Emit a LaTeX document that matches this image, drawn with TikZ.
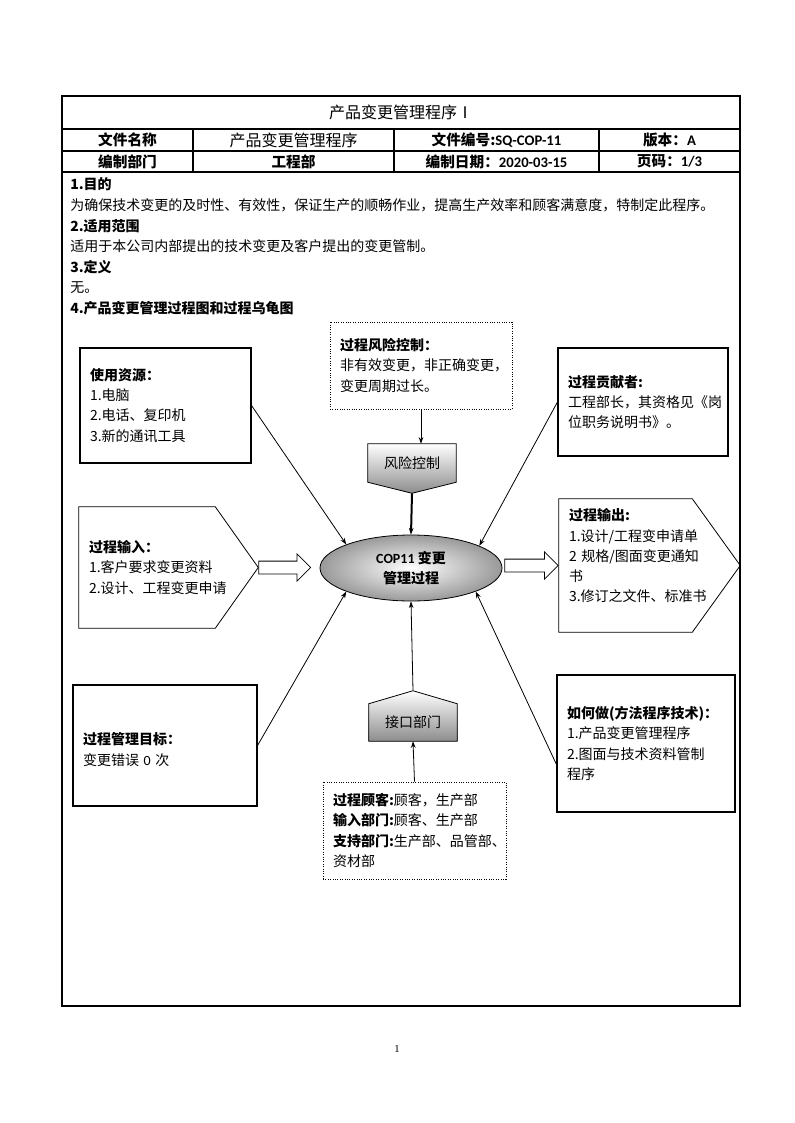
\documentclass[tikz,border=0pt]{standalone}
\usepackage{fontspec}
\setmainfont{Noto Sans CJK SC}
\newfontfamily\lat{Carlito}
\newfontfamily\pgnum{Liberation Serif}
\usetikzlibrary{arrows.meta,positioning,calc,shapes.arrows,shapes.geometric,backgrounds}

\begin{document}
\begin{tikzpicture}[x=0.75pt, y=-0.75pt,
    txt/.style={font=\fontsize{10.5}{15.2}\selectfont, inner sep=0pt},
    head/.style={txt, anchor=west, font=\fontsize{10.5}{15.2}\selectfont\bfseries},
    para/.style={txt, anchor=west},
    cell/.style={font=\fontsize{11}{13}\selectfont\bfseries, inner sep=0pt},
    box/.style={draw, line width=0.8pt, align=left, inner xsep=7.5pt, inner ysep=0pt,
                font=\fontsize{10.5}{15.2}\selectfont},
    dbox/.style={box, densely dotted, line width=0.7pt},
    plate/.style={align=left, inner xsep=7.5pt, inner ysep=0pt,
                  font=\fontsize{10.5}{15.2}\selectfont},
    tag/.style={draw, line width=0.6pt, top color=white, bottom color=black!45},
    blockarr/.style={draw, single arrow, single arrow head extend=5.5pt, inner sep=4.5pt,
                     minimum height=39pt, line width=0.6pt, fill=white},
    arr/.style={-{Stealth[length=5pt,width=3.5pt]}, line width=0.6pt}
]
\useasboundingbox (0,0) rectangle (794,1123);

% frame and header table
\draw[line width=0.8pt] (62,96) rectangle (740,1006);
\draw[line width=0.8pt] (62,129) -- (740,129);
\draw[line width=0.8pt] (62,151) -- (740,151);
\draw[line width=0.8pt] (62,172) -- (740,172);
\foreach \cx in {193,394,599}
    \draw[line width=0.8pt] (\cx,129) -- (\cx,172);

\node[font=\fontsize{12}{14}\selectfont, inner sep=0pt] (title) at (401,112) {产品变更管理程序Ⅰ};

\node[cell] (fname)   at (127.5,140) {文件名称};
\node[font=\fontsize{12}{14}\selectfont, inner sep=0pt] (fnameval) at (293.5,140) {产品变更管理程序};
\node[cell] (fno)     at (496.5,140) {文件编号:{\lat SQ-COP-11}};
\node[cell] (ver)     at (669.5,140) {版本：{\lat A}};
\node[cell] (dept)    at (127.5,161.5) {编制部门};
\node[cell] (deptval) at (293.5,161.5) {工程部};
\node[cell] (date)    at (496.5,161.5) {编制日期：{\lat 2020-03-15}};
\node[cell] (pg)      at (669.5,161.5) {页码：{\lat 1/3}};

% sections
\node[head] (s1)  at (70,184) {1.目的};
\node[para] (p1)  at (70,205) {为确保技术变更的及时性、有效性，保证生产的顺畅作业，提高生产效率和顾客满意度，特制定此程序。};
\node[head] (s2)  at (70,226) {2.适用范围};
\node[para] (p2)  at (70,246) {适用于本公司内部提出的技术变更及客户提出的变更管制。};
\node[head] (s3)  at (70,267) {3.定义};
\node[para] (p3)  at (70,288) {无。};
\node[head] (s4)  at (70,308) {4.产品变更管理过程图和过程乌龟图};

% turtle diagram
\node[box, text width=113.25pt, minimum height=86.25pt] (res) at (165.5,405.5)
    {\textbf{使用资源：}\\1.电脑\\2.电话、复印机\\3.新的通讯工具};
\node[dbox, text width=121.5pt, minimum height=65.25pt] (risk) at (421,365.5)
    {\textbf{过程风险控制：}\\非有效变更，非正确变更，\\变更周期过长。};
\node[box, text width=112.5pt, minimum height=81pt] (contrib) at (643,402)
    {\textbf{过程贡献者:}\\工程部长，其资格见《岗\\位职务说明书》。};

\node[plate, inner xsep=0pt, minimum width=66pt, minimum height=28.5pt, align=center] (riskctl) at (412,463) {风险控制};
\coordinate (riskctltip) at ($(riskctl.south)+(0,11)$);

\node[plate, text width=87pt, minimum height=90.75pt] (input) at (147,567.5)
    {\textbf{过程输入：}\\1.客户要求变更资料\\2.设计、工程变更申请};
\coordinate (inputtip) at ($(input.east)+(43,0)$);

\node[ellipse, draw, line width=0.6pt, minimum width=136.5pt, minimum height=49.5pt, inner sep=0pt,
      inner color=white, outer color=black!40, align=center,
      font=\fontsize{10.5}{15}\selectfont\bfseries] (core) at (411,568) {{\lat COP11} 变更\\管理过程};

\node[plate, text width=84.75pt, minimum height=99.75pt] (output) at (625.5,565.5)
    {\textbf{过程输出:}\\1.设计/工程变申请单\\2~规格/图面变更通知\\书\\3.修订之文件、标准书\\\mbox{}};
\coordinate (outputtip) at ($(output.east)+(48,0)$);

\node[blockarr, anchor=tail] (inarr) at (inputtip) {};
\node[blockarr, anchor=tip, minimum height=40pt] (outarr) at (output.west) {};

\node[plate, inner xsep=0pt, minimum width=66pt, minimum height=27.75pt, align=center] (iface) at (413,722.5) {接口部门};
\coordinate (ifacetip) at ($(iface.north)+(0,-13)$);

\node[box, text width=123pt, minimum height=90.75pt] (goal) at (165,745.5)
    {\mbox{}\\\textbf{过程管理目标：}\\变更错误 {\lat 0} 次};
\node[box, text width=118.5pt, minimum height=102.75pt] (how) at (646,743.5)
    {\textbf{如何做(方法程序技术)：}\\1.产品变更管理程序\\2.图面与技术资料管制\\程序};
\node[dbox, text width=122.25pt, minimum height=72.75pt] (cust) at (414.5,830.5)
    {\textbf{过程顾客:}顾客，生产部\\\textbf{输入部门:}顾客、生产部\\\textbf{支持部门:}生产部、品管部、\\资材部};

\begin{scope}[on background layer]
\shade[tag] (riskctl.north west) -- (riskctl.north east) -- (riskctl.south east)
    -- (riskctltip) -- (riskctl.south west) -- cycle;
\shade[tag] (iface.south west) -- (iface.north west) -- (ifacetip)
    -- (iface.north east) -- (iface.south east) -- cycle;
\draw[line width=0.6pt] (input.north west) -- (input.north east) -- (inputtip)
    -- (input.south east) -- (input.south west) -- cycle;
\draw[line width=0.6pt] (output.north west) -- (output.north east) -- (outputtip)
    -- (output.south east) -- (output.south west) -- cycle;
\end{scope}

\draw[arr] (res.east) -- (core.160);
\draw[arr] (contrib.west) -- (core.18);
\draw[arr] (goal.east) -- (core.200);
\draw[arr] ([yshift=-15.75pt]how.west) -- (core.-20);
\draw[arr] (risk.south) -- (risk.south |- riskctl.north);
\draw[arr, line width=1.5pt] (riskctltip) -- (core.north);
\draw[arr] (ifacetip) -- (core.south);
\draw[arr] (cust.north) -- (iface.south);

\node[font=\pgnum\fontsize{8}{9}\selectfont, inner sep=0pt] (pgno) at (397,1049) {1};
\end{tikzpicture}
\end{document}
